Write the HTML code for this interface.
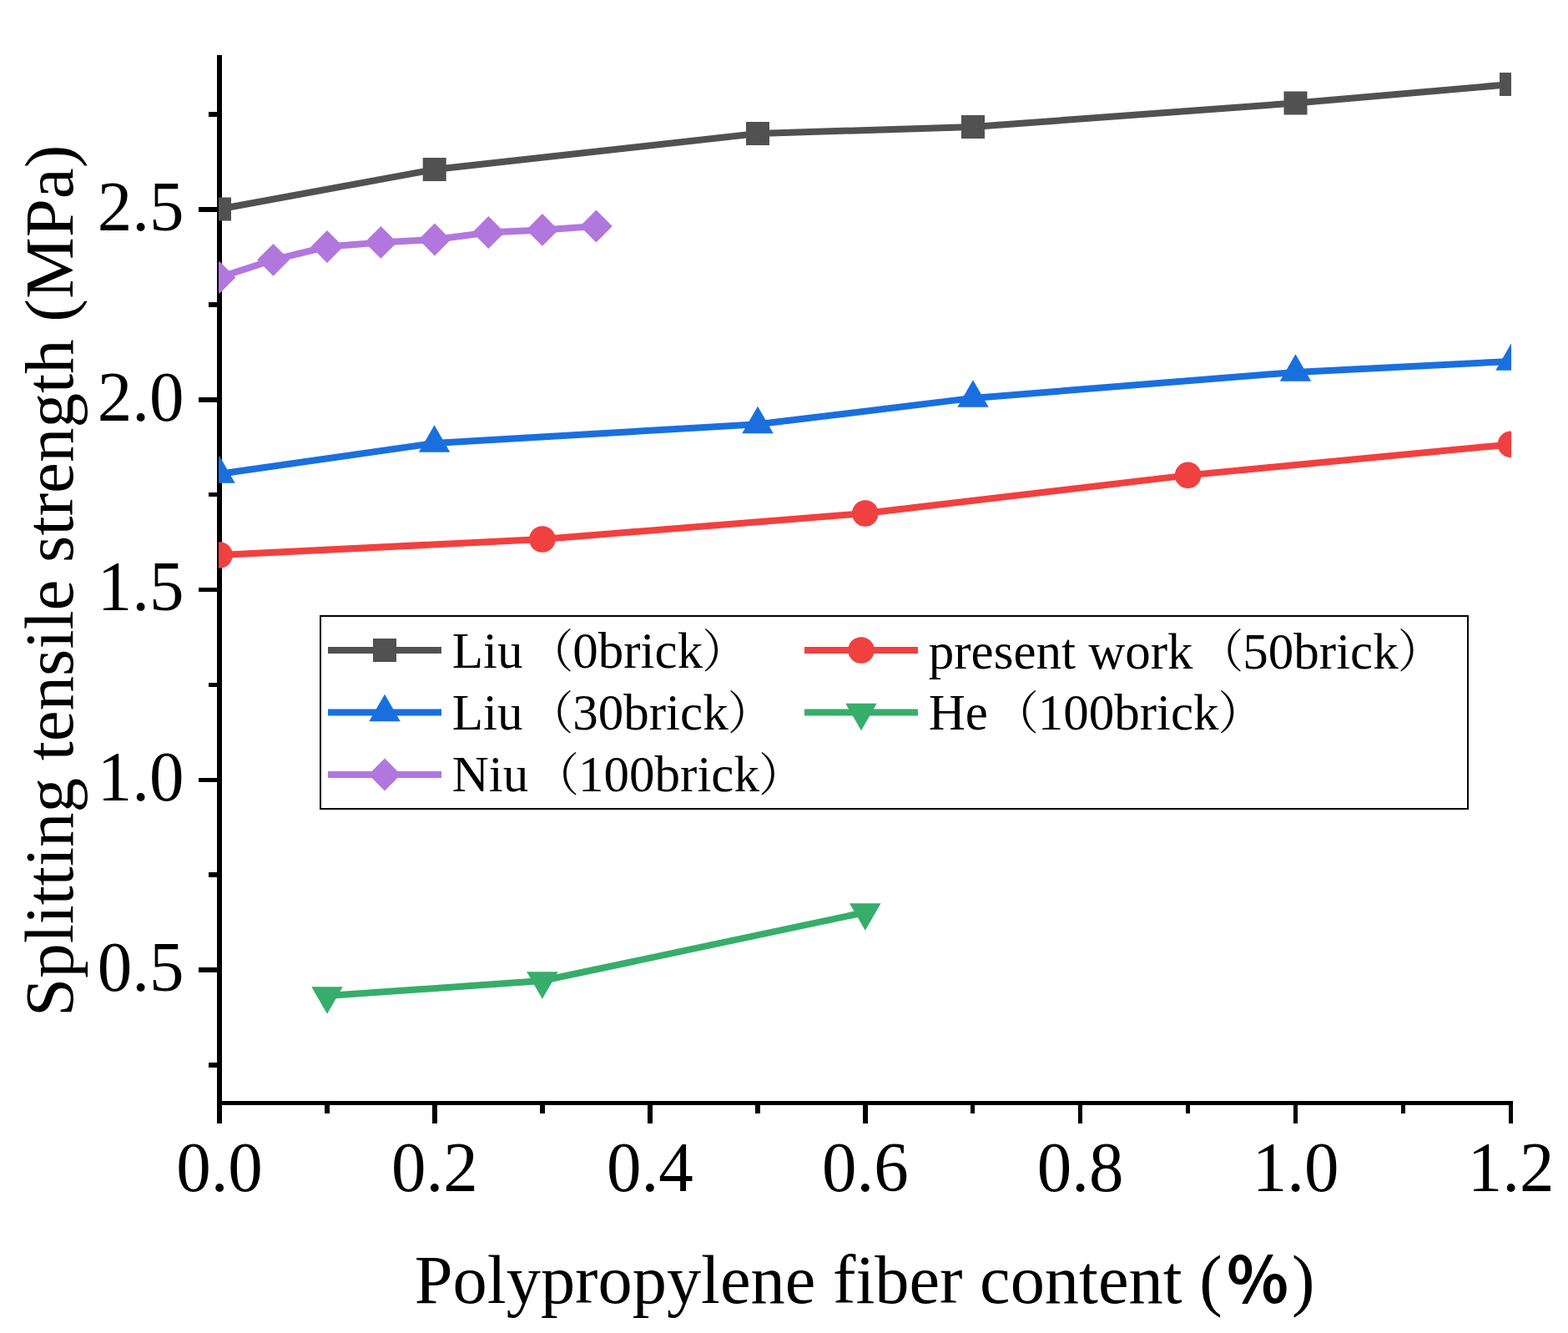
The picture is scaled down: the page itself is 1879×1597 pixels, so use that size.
<!DOCTYPE html>
<html><head><meta charset="utf-8"><style>
html,body{margin:0;padding:0;background:#fff;}
svg{display:block;}
</style></head><body>
<svg width="1879" height="1597" viewBox="0 0 1879 1597">
<rect width="1879" height="1597" fill="#fff"/>
<rect x="260" y="66" width="6" height="1258" fill="#000"/>
<rect x="260" y="1319" width="1553" height="5" fill="#000"/>
<rect x="238" y="1159" width="22" height="6" fill="#000"/>
<rect x="238" y="932" width="22" height="5" fill="#000"/>
<rect x="238" y="704" width="22" height="5" fill="#000"/>
<rect x="238" y="476" width="22" height="6" fill="#000"/>
<rect x="238" y="248" width="22" height="6" fill="#000"/>
<rect x="250" y="1273" width="10" height="6" fill="#000"/>
<rect x="250" y="1045" width="10" height="6" fill="#000"/>
<rect x="250" y="818" width="10" height="5" fill="#000"/>
<rect x="250" y="590" width="10" height="5" fill="#000"/>
<rect x="250" y="362" width="10" height="6" fill="#000"/>
<rect x="250" y="134" width="10" height="6" fill="#000"/>
<rect x="518" y="1324" width="6" height="22" fill="#000"/>
<rect x="776" y="1324" width="6" height="22" fill="#000"/>
<rect x="1034" y="1324" width="6" height="22" fill="#000"/>
<rect x="1292" y="1324" width="5" height="22" fill="#000"/>
<rect x="1550" y="1324" width="5" height="22" fill="#000"/>
<rect x="1808" y="1324" width="5" height="22" fill="#000"/>
<rect x="260" y="1324" width="6" height="22" fill="#000"/>
<rect x="389" y="1324" width="6" height="10" fill="#000"/>
<rect x="647" y="1324" width="6" height="10" fill="#000"/>
<rect x="905" y="1324" width="6" height="10" fill="#000"/>
<rect x="1163" y="1324" width="5" height="10" fill="#000"/>
<rect x="1421" y="1324" width="5" height="10" fill="#000"/>
<rect x="1679" y="1324" width="5" height="10" fill="#000"/>
<text transform="translate(220.5,275.80) scale(1,1.03)" text-anchor="end" style="font-family:'Liberation Serif','Times New Roman',serif;font-size:83px">2.5</text>
<text transform="translate(220.5,503.55) scale(1,1.03)" text-anchor="end" style="font-family:'Liberation Serif','Times New Roman',serif;font-size:83px">2.0</text>
<text transform="translate(220.5,731.30) scale(1,1.03)" text-anchor="end" style="font-family:'Liberation Serif','Times New Roman',serif;font-size:83px">1.5</text>
<text transform="translate(220.5,959.05) scale(1,1.03)" text-anchor="end" style="font-family:'Liberation Serif','Times New Roman',serif;font-size:83px">1.0</text>
<text transform="translate(220.5,1186.80) scale(1,1.03)" text-anchor="end" style="font-family:'Liberation Serif','Times New Roman',serif;font-size:83px">0.5</text>
<text transform="translate(263.00,1427.3) scale(1,1.03)" text-anchor="middle" style="font-family:'Liberation Serif','Times New Roman',serif;font-size:83px">0.0</text>
<text transform="translate(520.92,1427.3) scale(1,1.03)" text-anchor="middle" style="font-family:'Liberation Serif','Times New Roman',serif;font-size:83px">0.2</text>
<text transform="translate(778.84,1427.3) scale(1,1.03)" text-anchor="middle" style="font-family:'Liberation Serif','Times New Roman',serif;font-size:83px">0.4</text>
<text transform="translate(1036.76,1427.3) scale(1,1.03)" text-anchor="middle" style="font-family:'Liberation Serif','Times New Roman',serif;font-size:83px">0.6</text>
<text transform="translate(1294.68,1427.3) scale(1,1.03)" text-anchor="middle" style="font-family:'Liberation Serif','Times New Roman',serif;font-size:83px">0.8</text>
<text transform="translate(1552.60,1427.3) scale(1,1.03)" text-anchor="middle" style="font-family:'Liberation Serif','Times New Roman',serif;font-size:83px">1.0</text>
<text transform="translate(1810.52,1427.3) scale(1,1.03)" text-anchor="middle" style="font-family:'Liberation Serif','Times New Roman',serif;font-size:83px">1.2</text>
<text x="496.8" y="1561" style="font-family:'Liberation Serif','Times New Roman',serif;font-size:82.4px">Polypropylene fiber content (<tspan dx="5.5" style="font-family:'Noto Sans CJK SC',sans-serif;font-weight:bold;font-size:77px">%</tspan><tspan dx="3.8">)</tspan></text>
<text transform="translate(86.7,1218) rotate(-90)" x="0" y="0" style="font-family:'Liberation Serif','Times New Roman',serif;font-size:83px">Splitting tensile strength (MPa)</text>
<defs><clipPath id="pc"><rect x="262" y="60" width="1549" height="1262"/></clipPath></defs>
<g clip-path="url(#pc)">
<polyline points="263.00,250.50 520.70,203.00 908.00,160.00 1166.00,152.00 1552.50,123.50 1811.00,101.00" fill="none" stroke="#515151" stroke-width="8.0" stroke-linejoin="miter" stroke-linecap="butt"/>
<rect x="249.00" y="236.50" width="28.0" height="28.0" fill="#515151"/>
<rect x="506.70" y="189.00" width="28.0" height="28.0" fill="#515151"/>
<rect x="894.00" y="146.00" width="28.0" height="28.0" fill="#515151"/>
<rect x="1152.00" y="138.00" width="28.0" height="28.0" fill="#515151"/>
<rect x="1538.50" y="109.50" width="28.0" height="28.0" fill="#515151"/>
<rect x="1797.00" y="87.00" width="28.0" height="28.0" fill="#515151"/>
<polyline points="263.00,332.40 327.50,311.30 392.00,295.50 456.40,290.40 520.90,287.00 585.40,278.50 649.90,275.40 714.40,271.00" fill="none" stroke="#B177DE" stroke-width="8.0" stroke-linejoin="miter" stroke-linecap="butt"/>
<polygon points="263.00,313.00 282.40,332.40 263.00,351.80 243.60,332.40" fill="#B177DE"/>
<polygon points="327.50,291.90 346.90,311.30 327.50,330.70 308.10,311.30" fill="#B177DE"/>
<polygon points="392.00,276.10 411.40,295.50 392.00,314.90 372.60,295.50" fill="#B177DE"/>
<polygon points="456.40,271.00 475.80,290.40 456.40,309.80 437.00,290.40" fill="#B177DE"/>
<polygon points="520.90,267.60 540.30,287.00 520.90,306.40 501.50,287.00" fill="#B177DE"/>
<polygon points="585.40,259.10 604.80,278.50 585.40,297.90 566.00,278.50" fill="#B177DE"/>
<polygon points="649.90,256.00 669.30,275.40 649.90,294.80 630.50,275.40" fill="#B177DE"/>
<polygon points="714.40,251.60 733.80,271.00 714.40,290.40 695.00,271.00" fill="#B177DE"/>
<polyline points="263.00,567.80 520.50,531.00 908.00,508.30 1166.00,476.90 1552.50,445.90 1811.00,432.90" fill="none" stroke="#1A6FDF" stroke-width="8.0" stroke-linejoin="miter" stroke-linecap="butt"/>
<polygon points="263.00,546.13 281.75,578.63 244.25,578.63" fill="#1A6FDF"/>
<polygon points="520.50,509.33 539.25,541.83 501.75,541.83" fill="#1A6FDF"/>
<polygon points="908.00,486.63 926.75,519.13 889.25,519.13" fill="#1A6FDF"/>
<polygon points="1166.00,455.23 1184.75,487.73 1147.25,487.73" fill="#1A6FDF"/>
<polygon points="1552.50,424.23 1571.25,456.73 1533.75,456.73" fill="#1A6FDF"/>
<polygon points="1811.00,411.23 1829.75,443.73 1792.25,443.73" fill="#1A6FDF"/>
<polyline points="263.00,665.00 649.90,646.00 1036.80,615.00 1423.60,569.40 1810.50,532.40" fill="none" stroke="#F14040" stroke-width="8.0" stroke-linejoin="miter" stroke-linecap="butt"/>
<circle cx="263.00" cy="665.00" r="15.8" fill="#F14040"/>
<circle cx="649.90" cy="646.00" r="15.8" fill="#F14040"/>
<circle cx="1036.80" cy="615.00" r="15.8" fill="#F14040"/>
<circle cx="1423.60" cy="569.40" r="15.8" fill="#F14040"/>
<circle cx="1810.50" cy="532.40" r="15.8" fill="#F14040"/>
<polyline points="392.00,1193.00 649.90,1175.00 1036.80,1093.00" fill="none" stroke="#37AD6B" stroke-width="8.0" stroke-linejoin="miter" stroke-linecap="butt"/>
<polygon points="392.00,1214.67 410.75,1182.17 373.25,1182.17" fill="#37AD6B"/>
<polygon points="649.90,1196.67 668.65,1164.17 631.15,1164.17" fill="#37AD6B"/>
<polygon points="1036.80,1114.67 1055.55,1082.17 1018.05,1082.17" fill="#37AD6B"/>
</g>
<rect x="384" y="738" width="1375" height="231" fill="none" stroke="#000" stroke-width="2"/>
<rect x="393" y="775.00" width="136" height="8.0" fill="#515151"/>
<rect x="447.00" y="765.00" width="28.0" height="28.0" fill="#515151"/>
<text transform="translate(541.8,800.30) scale(1,1.02)" style="font-family:'Liberation Serif','Times New Roman',serif;font-size:61px">Liu<tspan dx="6.7" dy="-1.7" style="font-family:'Noto Serif CJK SC',serif;font-size:54px">（</tspan><tspan dx="-0.9" dy="1.7">0brick</tspan><tspan dx="-1" dy="-1.7" style="font-family:'Noto Serif CJK SC',serif;font-size:54px">）</tspan></text>
<rect x="393" y="849.50" width="136" height="8.0" fill="#1A6FDF"/>
<polygon points="461.00,831.83 479.75,864.33 442.25,864.33" fill="#1A6FDF"/>
<text transform="translate(541.8,874.30) scale(1,1.02)" style="font-family:'Liberation Serif','Times New Roman',serif;font-size:61px">Liu<tspan dx="6.7" dy="-1.7" style="font-family:'Noto Serif CJK SC',serif;font-size:54px">（</tspan><tspan dx="-0.9" dy="1.7">30brick</tspan><tspan dx="-1" dy="-1.7" style="font-family:'Noto Serif CJK SC',serif;font-size:54px">）</tspan></text>
<rect x="393" y="924.00" width="136" height="8.0" fill="#B177DE"/>
<polygon points="461.00,908.60 480.40,928.00 461.00,947.40 441.60,928.00" fill="#B177DE"/>
<text transform="translate(541.8,948.40) scale(1,1.02)" style="font-family:'Liberation Serif','Times New Roman',serif;font-size:61px">Niu<tspan dx="6.7" dy="-1.7" style="font-family:'Noto Serif CJK SC',serif;font-size:54px">（</tspan><tspan dx="-0.9" dy="1.7">100brick</tspan><tspan dx="-1" dy="-1.7" style="font-family:'Noto Serif CJK SC',serif;font-size:54px">）</tspan></text>
<rect x="964" y="775.00" width="136" height="8.0" fill="#F14040"/>
<circle cx="1032.00" cy="779.00" r="15.8" fill="#F14040"/>
<text transform="translate(1112.8,800.60) scale(1,1.02)" style="font-family:'Liberation Serif','Times New Roman',serif;font-size:61px">present work<tspan dx="6.7" dy="-1.7" style="font-family:'Noto Serif CJK SC',serif;font-size:54px">（</tspan><tspan dx="-0.9" dy="1.7">50brick</tspan><tspan dx="-1" dy="-1.7" style="font-family:'Noto Serif CJK SC',serif;font-size:54px">）</tspan></text>
<rect x="964" y="849.50" width="136" height="8.0" fill="#37AD6B"/>
<polygon points="1032.00,875.17 1050.75,842.67 1013.25,842.67" fill="#37AD6B"/>
<text transform="translate(1112.8,874.30) scale(1,1.02)" style="font-family:'Liberation Serif','Times New Roman',serif;font-size:61px">He<tspan dx="6.7" dy="-1.7" style="font-family:'Noto Serif CJK SC',serif;font-size:54px">（</tspan><tspan dx="-0.9" dy="1.7">100brick</tspan><tspan dx="-1" dy="-1.7" style="font-family:'Noto Serif CJK SC',serif;font-size:54px">）</tspan></text>
</svg>
</body></html>
